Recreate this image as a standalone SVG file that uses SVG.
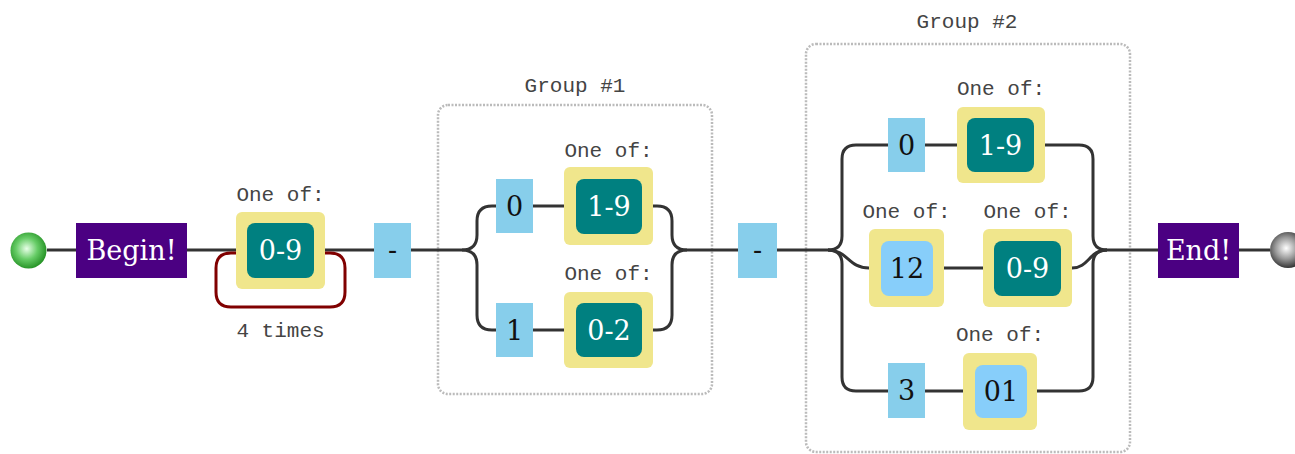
<svg xmlns="http://www.w3.org/2000/svg" width="1295" height="454" viewBox="0 0 1295 454">
<defs>
<radialGradient id="gGreen" cx="0.45" cy="0.45" r="0.6">
<stop offset="0" stop-color="#e8ffe8"/>
<stop offset="0.5" stop-color="#6c6"/>
<stop offset="1" stop-color="#1c8a1c"/>
</radialGradient>
<radialGradient id="gGray" cx="0.45" cy="0.45" r="0.6">
<stop offset="0" stop-color="#ffffff"/>
<stop offset="0.5" stop-color="#999"/>
<stop offset="1" stop-color="#222"/>
</radialGradient>
</defs>
<style>
.line{fill:none;stroke:#333;stroke-width:3}
.loop{fill:none;stroke:#800000;stroke-width:3}
.lit{fill:#87ceeb}
.set{fill:#f0e68c}
.rng{fill:#008080}
.ch{fill:#87cefa}
.anc{fill:#4b0082}
.grp{fill:none;stroke:#bbb;stroke-width:2.5;stroke-dasharray:2 1.5}
.lbl{font-family:"Liberation Mono",monospace;font-size:21px;fill:#444;text-anchor:middle}
.t{font-family:"DejaVu Serif",serif;font-size:27px;text-anchor:middle}
.w{fill:#fff}
.k{fill:#111}
</style>
<g id="groups">
<rect class="grp" x="438" y="105" width="274" height="289" rx="10"/>
<text class="lbl" x="575" y="92">Group #1</text>
<rect class="grp" x="806" y="44" width="324" height="408" rx="10"/>
<text class="lbl" x="967" y="28">Group #2</text>
</g>
<g id="connectors">
<path class="line" d="M47,250 H76"/>
<path class="line" d="M187,250 H236"/>
<path class="line" d="M325,250 H374"/>
<path class="line" d="M411,250 H462"/>
<path class="line" d="M462,250 q15,0 15,-15 V221 q0,-15 15,-15 H496"/>
<path class="line" d="M462,250 q15,0 15,15 V315 q0,15 15,15 H496"/>
<path class="line" d="M533,206 H564"/>
<path class="line" d="M533,330 H564"/>
<path class="line" d="M653,206 H657 q15,0 15,15 V235 q0,15 15,15"/>
<path class="line" d="M653,330 H657 q15,0 15,-15 V265 q0,-15 15,-15"/>
<path class="line" d="M687,250 H738"/>
<path class="line" d="M777,250 H828"/>
<path class="line" d="M828,250 q14,0 14,-14 V159 q0,-14 14,-14 H888"/>
<path class="line" d="M828,250 c20,0 20,18 41,18"/>
<path class="line" d="M828,250 q14,0 14,14 V377 q0,14 14,14 H888"/>
<path class="line" d="M925,145 H957"/>
<path class="line" d="M944,268 H983"/>
<path class="line" d="M925,391 H963"/>
<path class="line" d="M1045,145 H1079 q14,0 14,14 V236 q0,14 14,14"/>
<path class="line" d="M1072,268 c17,0 17,-18 35,-18"/>
<path class="line" d="M1037,391 H1079 q14,0 14,-14 V264 q0,-14 14,-14"/>
<path class="line" d="M1107,250 H1158"/>
<path class="line" d="M1239,250 H1270"/>
<path class="loop" d="M236,253 H231 q-15,0 -15,15 V292 q0,15 15,15 H330 q15,0 15,-15 V268 q0,-15 -15,-15 H325"/>
</g>
<g id="start"><circle cx="28.5" cy="250.5" r="18" fill="url(#gGreen)"/></g>
<g id="begin"><rect class="anc" x="76" y="223" width="111" height="55"/><text class="t w" x="131.5" y="260">Begin!</text></g>
<g id="set09a">
<text class="lbl" x="280.5" y="201">One of:</text>
<rect class="set" x="236" y="212" width="89" height="77" rx="6"/>
<rect class="rng" x="247" y="223" width="67" height="55" rx="8"/>
<text class="t w" x="280.5" y="260">0-9</text>
<text class="lbl" x="280.5" y="337">4 times</text>
</g>
<g id="dash1"><rect class="lit" x="374" y="223" width="37" height="55"/><text class="t k" x="392.5" y="259">-</text></g>
<g id="g1lit0"><rect class="lit" x="496" y="179" width="37" height="54"/><text class="t k" x="514.5" y="216">0</text></g>
<g id="g1set19">
<text class="lbl" x="608.5" y="157">One of:</text>
<rect class="set" x="564" y="167" width="89" height="78" rx="6"/>
<rect class="rng" x="576" y="179" width="66" height="55" rx="8"/>
<text class="t w" x="609" y="216">1-9</text>
</g>
<g id="g1lit1"><rect class="lit" x="496" y="303" width="37" height="54"/><text class="t k" x="514.5" y="340">1</text></g>
<g id="g1set02">
<text class="lbl" x="608.5" y="280">One of:</text>
<rect class="set" x="564" y="292" width="89" height="76" rx="6"/>
<rect class="rng" x="576" y="303" width="66" height="54" rx="8"/>
<text class="t w" x="609" y="340">0-2</text>
</g>
<g id="dash2"><rect class="lit" x="738" y="223" width="39" height="55"/><text class="t k" x="757.5" y="259">-</text></g>
<g id="g2lit0"><rect class="lit" x="888" y="118" width="37" height="54"/><text class="t k" x="906.5" y="155">0</text></g>
<g id="g2set19">
<text class="lbl" x="1001" y="95">One of:</text>
<rect class="set" x="957" y="107" width="88" height="76" rx="6"/>
<rect class="rng" x="967" y="118" width="67" height="54" rx="8"/>
<text class="t w" x="1000.5" y="155">1-9</text>
</g>
<g id="g2set12">
<text class="lbl" x="906.5" y="218">One of:</text>
<rect class="set" x="869" y="229" width="75" height="78" rx="6"/>
<rect class="ch" x="881" y="241" width="52" height="55" rx="8"/>
<text class="t k" x="907" y="278">12</text>
</g>
<g id="g2set09">
<text class="lbl" x="1027.5" y="218">One of:</text>
<rect class="set" x="983" y="229" width="89" height="78" rx="6"/>
<rect class="rng" x="994" y="241" width="67" height="55" rx="8"/>
<text class="t w" x="1027.5" y="278">0-9</text>
</g>
<g id="g2lit3"><rect class="lit" x="888" y="363" width="37" height="55"/><text class="t k" x="906.5" y="400">3</text></g>
<g id="g2set01">
<text class="lbl" x="1000" y="341">One of:</text>
<rect class="set" x="963" y="353" width="74" height="77" rx="6"/>
<rect class="ch" x="975" y="365" width="52" height="53" rx="8"/>
<text class="t k" x="1001" y="401">01</text>
</g>
<g id="endbox"><rect class="anc" x="1158" y="223" width="81" height="55"/><text class="t w" x="1198.5" y="260">End!</text></g>
<g id="end"><circle cx="1288" cy="250" r="18" fill="url(#gGray)"/></g>
</svg>
